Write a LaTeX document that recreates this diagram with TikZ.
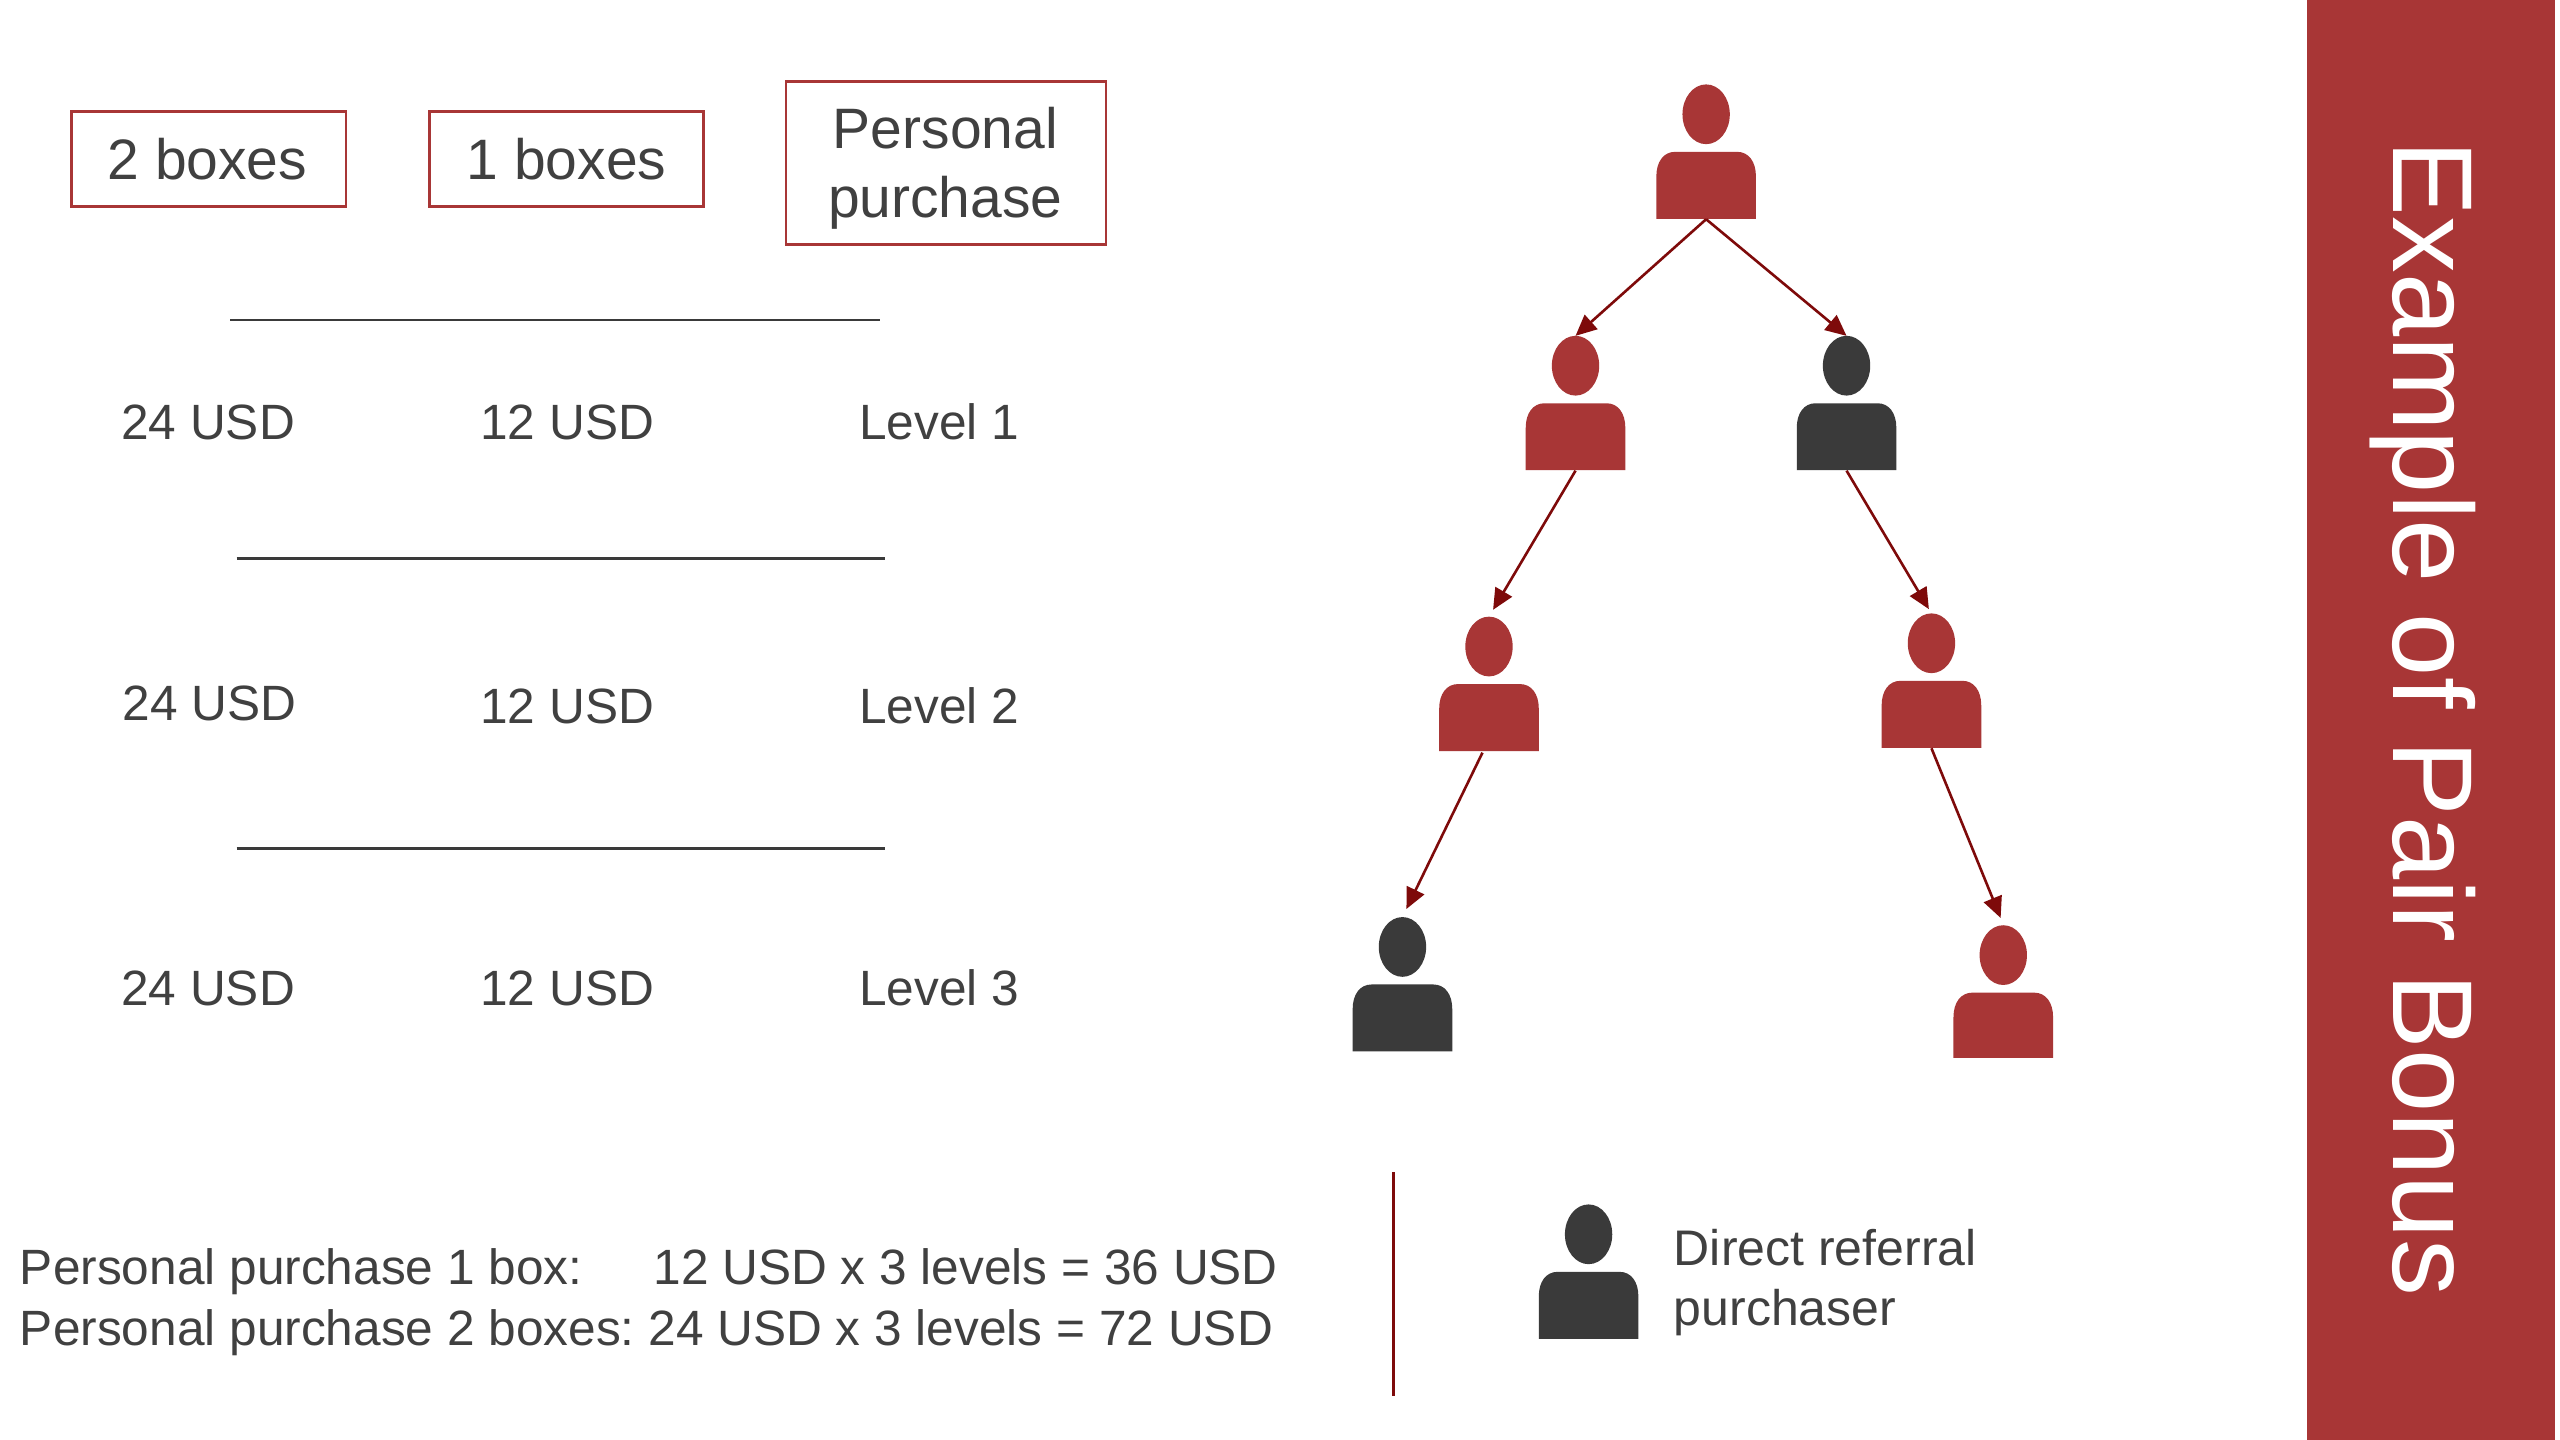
\documentclass[tikz,border=0pt]{standalone}
\usepackage{fontspec}
\setmainfont{Liberation Sans}
\usetikzlibrary{arrows.meta}
\definecolor{brick}{HTML}{A83636}
\definecolor{ink}{HTML}{3A3A3A}
\definecolor{txt}{HTML}{404040}
\definecolor{arrowred}{HTML}{7E0A0A}
\newcommand{\person}[5]{% name, cx, top, bottom, colour
  \fill[#5] (#2,#3+18) ellipse [x radius=14.5, y radius=18.3];
  \fill[#5] (#2-30.5,#4) -- (#2-30.5,#3+56) .. controls (#2-30.5,#3+47) and (#2-26,#3+41) .. (#2-19,#3+41) -- (#2+19,#3+41) .. controls (#2+26,#3+41) and (#2+30.5,#3+47) .. (#2+30.5,#3+56) -- (#2+30.5,#4) -- cycle;
  \node[inner sep=0pt, minimum width=50pt, minimum height=67pt] (#1) at (#2,#3/2+#4/2) {};
}
\tikzset{
  x=0.81633pt, y=-0.81633pt,
  boxlabel/.style={draw=brick, line width=1.4pt, fill=white, inner sep=0pt, anchor=north west},
  boxtext/.style={text=txt, inner sep=0pt, anchor=base, font=\fontsize{28.5}{34}\selectfont},
  cell/.style={text=txt, font=\fontsize{24.8}{30}\selectfont, inner sep=0pt, anchor=base west},
  rule/.style={ink, line width=1.4pt},
  link/.style={arrowred, line width=1.3pt, -{Triangle[length=10.5pt,width=9.5pt]}},
}
\begin{document}
\begin{tikzpicture}
\useasboundingbox (0,0) rectangle (1568,882);
\fill[white] (0,0) rectangle (1568,882);
\fill[brick] (1413,0) rectangle (1565,882);
\node[rotate=-90, anchor=base, text=white, inner sep=0pt, font=\fontsize{56.8}{60}\selectfont] (title) at (1466,440) {Example of Pair Bonus};

\node[boxlabel, minimum width=137.2pt, minimum height=47.4pt] (b2) at (43,67.5) {};
\node[boxtext] (b2t) at (127,110) {2 boxes};
\node[boxlabel, minimum width=137.2pt, minimum height=47.4pt] (b1) at (262,67.5) {};
\node[boxtext] (b1t) at (347,110) {1 boxes};
\node[boxlabel, minimum width=160pt, minimum height=81.6pt] (pp) at (480.5,49) {};
\node[boxtext] (ppa) at (579,91) {Personal};
\node[boxtext] (ppb) at (579,133) {purchase};

\coordinate (r1a) at (141,196); \coordinate (r1b) at (539,196);
\coordinate (r2a) at (145,342); \coordinate (r2b) at (542,342);
\coordinate (r3a) at (145,519.5); \coordinate (r3b) at (542,519.5);
\draw[rule] (r1a) -- (r1b);
\draw[rule] (r2a) -- (r2b);
\draw[rule] (r3a) -- (r3b);

\node[cell] (a1) at (74,269) {24 USD};
\node[cell] (a2) at (294,269) {12 USD};
\node[cell] (a3) at (526,269) {Level 1};
\node[cell] (c1) at (75,441) {24 USD};
\node[cell] (c2) at (294,443) {12 USD};
\node[cell] (c3) at (526,443) {Level 2};
\node[cell] (d1) at (74,616) {24 USD};
\node[cell] (d2) at (294,616) {12 USD};
\node[cell] (d3) at (526,616) {Level 3};

\node[cell] (s1a) at (12,787) {Personal purchase 1 box:};
\node[cell] (s1b) at (400,787) {12 USD x 3 levels = 36 USD};
\node[cell] (s2a) at (12,824) {Personal purchase 2 boxes:};
\node[cell] (s2b) at (397,824) {24 USD x 3 levels = 72 USD};

\coordinate (va) at (853.5,718); \coordinate (vb) at (853.5,855);
\draw[arrowred, line width=1.2pt] (va) -- (vb);

\person{p1}{1045}{52}{134}{brick}
\person{p2}{965}{206}{288}{brick}
\person{p3}{1131}{206}{288}{ink}
\person{p4}{912}{378}{460}{brick}
\person{p5}{1183}{376}{458}{brick}
\person{p6}{859}{562}{644}{ink}
\person{p7}{1227}{567}{648}{brick}
\person{leg}{973}{738}{820}{ink}
\node[cell, font=\fontsize{25}{30}\selectfont] (lega) at (1025,775) {Direct referral};
\node[cell, font=\fontsize{25}{30}\selectfont] (legb) at (1025,812) {purchaser};

\coordinate (p4out) at (908,461);
\draw[link] (p1.south) -- (p2.north);
\draw[link] (p1.south) -- (p3.north);
\draw[link, shorten >=4pt] (p2.south) -- (p4.north);
\draw[link, shorten >=2.5pt] (p3.south) -- (p5.north);
\draw[link, shorten >=4.5pt] (p4out) -- (p6.north);
\draw[link, shorten >=3.5pt] (p5.south) -- (p7.north);
\end{tikzpicture}
\end{document}
